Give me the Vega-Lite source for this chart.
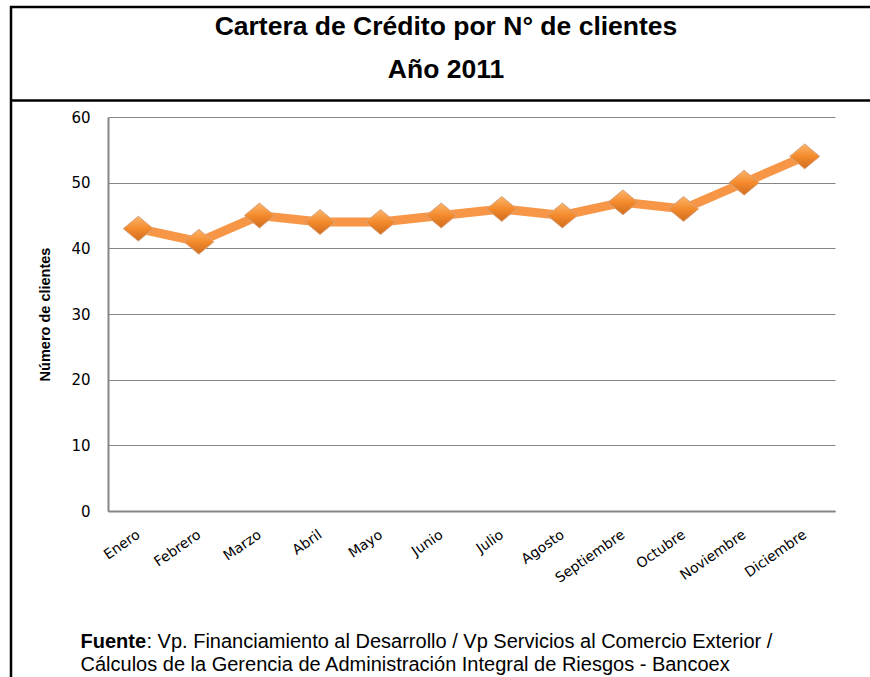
{
  "$schema": "https://vega.github.io/schema/vega-lite/v6.json",
  "autosize": {"type": "none"},
  "width": 880,
  "height": 690,
  "padding": {"left": 11, "top": 7, "right": -21, "bottom": -20},
  "background": "white",
  "config": {"view": {"stroke": "#000000", "strokeWidth": 2.5}},
  "layer": [
    {
      "data": {
        "values": [
          {"mes": "Enero", "clientes": 43},
          {"mes": "Febrero", "clientes": 41},
          {"mes": "Marzo", "clientes": 45},
          {"mes": "Abril", "clientes": 44},
          {"mes": "Mayo", "clientes": 44},
          {"mes": "Junio", "clientes": 45},
          {"mes": "Julio", "clientes": 46},
          {"mes": "Agosto", "clientes": 45},
          {"mes": "Septiembre", "clientes": 47},
          {"mes": "Octubre", "clientes": 46},
          {"mes": "Noviembre", "clientes": 50},
          {"mes": "Diciembre", "clientes": 54}
        ]
      },
      "encoding": {
        "x": {
          "field": "mes",
          "type": "nominal",
          "sort": null,
          "scale": {"type": "point", "range": [97, 824], "padding": 0.5},
          "axis": {
            "orient": "bottom",
            "offset": -186,
            "title": "Cálculos de la Gerencia de Administración Integral de Riesgos - Bancoex",
            "titleFont": "Liberation Sans",
            "titleFontSize": 20,
            "titleFontWeight": "normal",
            "titleColor": "#000000",
            "titleAlign": "left",
            "titleAnchor": "start",
            "titleBaseline": "alphabetic",
            "titleX": 69,
            "titleY": 159,
            "labelAngle": -35,
            "labelAlign": "right",
            "labelBaseline": "middle",
            "labelPadding": 22,
            "labelFont": "DejaVu Sans",
            "labelFontSize": 14,
            "labelColor": "#000000",
            "labelOverlap": false,
            "ticks": false,
            "grid": false,
            "domainColor": "#868686",
            "domainWidth": 2
          }
        },
        "y": {
          "field": "clientes",
          "type": "quantitative",
          "scale": {"domain": [0, 60], "range": [504, 110], "nice": false},
          "axis": {
            "orient": "left",
            "offset": -97,
            "values": [0, 10, 20, 30, 40, 50, 60],
            "grid": true,
            "gridColor": "#868686",
            "gridWidth": 1,
            "domainColor": "#868686",
            "domainWidth": 2,
            "ticks": false,
            "labelPadding": 18,
            "labelFont": "DejaVu Sans",
            "labelFontSize": 15,
            "labelColor": "#000000",
            "title": "Número de clientes",
            "titleFont": "Liberation Sans",
            "titleFontSize": 14.5,
            "titleFontWeight": "bold",
            "titleColor": "#000000",
            "titlePadding": 18
          }
        }
      },
      "layer": [
        {"mark": {"type": "line", "color": "#F79646", "strokeWidth": 9}},
        {
          "mark": {
            "type": "point",
            "shape": "M-1,0L0,-0.83L1,0L0,0.83Z",
            "size": 900,
            "filled": true,
            "opacity": 1,
            "fill": {
              "gradient": "linear",
              "x1": 0, "y1": 0, "x2": 0, "y2": 1,
              "stops": [
                {"offset": 0, "color": "#FBB56A"},
                {"offset": 0.5, "color": "#F48A2C"},
                {"offset": 1, "color": "#CF6C1E"}
              ]
            },
            "stroke": "#D8A27C",
            "strokeWidth": 1
          }
        }
      ]
    },
    {
      "data": {
        "values": [
          {"texto": "Cartera de Crédito por N° de clientes", "linea": 0, "px": 0.5},
          {"texto": "Año 2011", "linea": 1, "px": 0.5}
        ]
      },
      "mark": {"type": "text", "font": "Liberation Sans", "fontWeight": "bold", "fontSize": 26.5, "baseline": "middle", "align": "center", "dx": -5, "color": "#000000"},
      "encoding": {
        "text": {"field": "texto"},
        "x": {
          "field": "px",
          "type": "quantitative",
          "scale": {"domain": [0, 1], "nice": false, "zero": false},
          "axis": {
            "orient": "top",
            "offset": -93,
            "domainColor": "#000000",
            "domainWidth": 2.5,
            "labels": false,
            "ticks": false,
            "grid": false,
            "title": "Fuente",
            "titleFont": "Liberation Sans",
            "titleFontSize": 20,
            "titleFontWeight": "bold",
            "titleColor": "#000000",
            "titleAlign": "left",
            "titleAnchor": "start",
            "titleBaseline": "alphabetic",
            "titleX": 69,
            "titleY": 547
          }
        },
        "y": {
          "field": "linea",
          "type": "quantitative",
          "scale": {"domain": [0, 1], "range": [20, 63], "nice": false, "zero": false},
          "axis": {
            "orient": "left",
            "domain": false,
            "labels": false,
            "ticks": false,
            "grid": false,
            "title": ": Vp. Financiamiento al Desarrollo / Vp Servicios  al Comercio Exterior /",
            "titleAngle": 0,
            "titleFont": "Liberation Sans",
            "titleFontSize": 20,
            "titleFontWeight": "normal",
            "titleColor": "#000000",
            "titleAlign": "left",
            "titleAnchor": "start",
            "titleBaseline": "alphabetic",
            "titleX": 135,
            "titleY": 640
          }
        }
      }
    }
  ],
  "resolve": {"scale": {"x": "independent", "y": "independent"}, "axis": {"x": "independent", "y": "independent"}}
}
